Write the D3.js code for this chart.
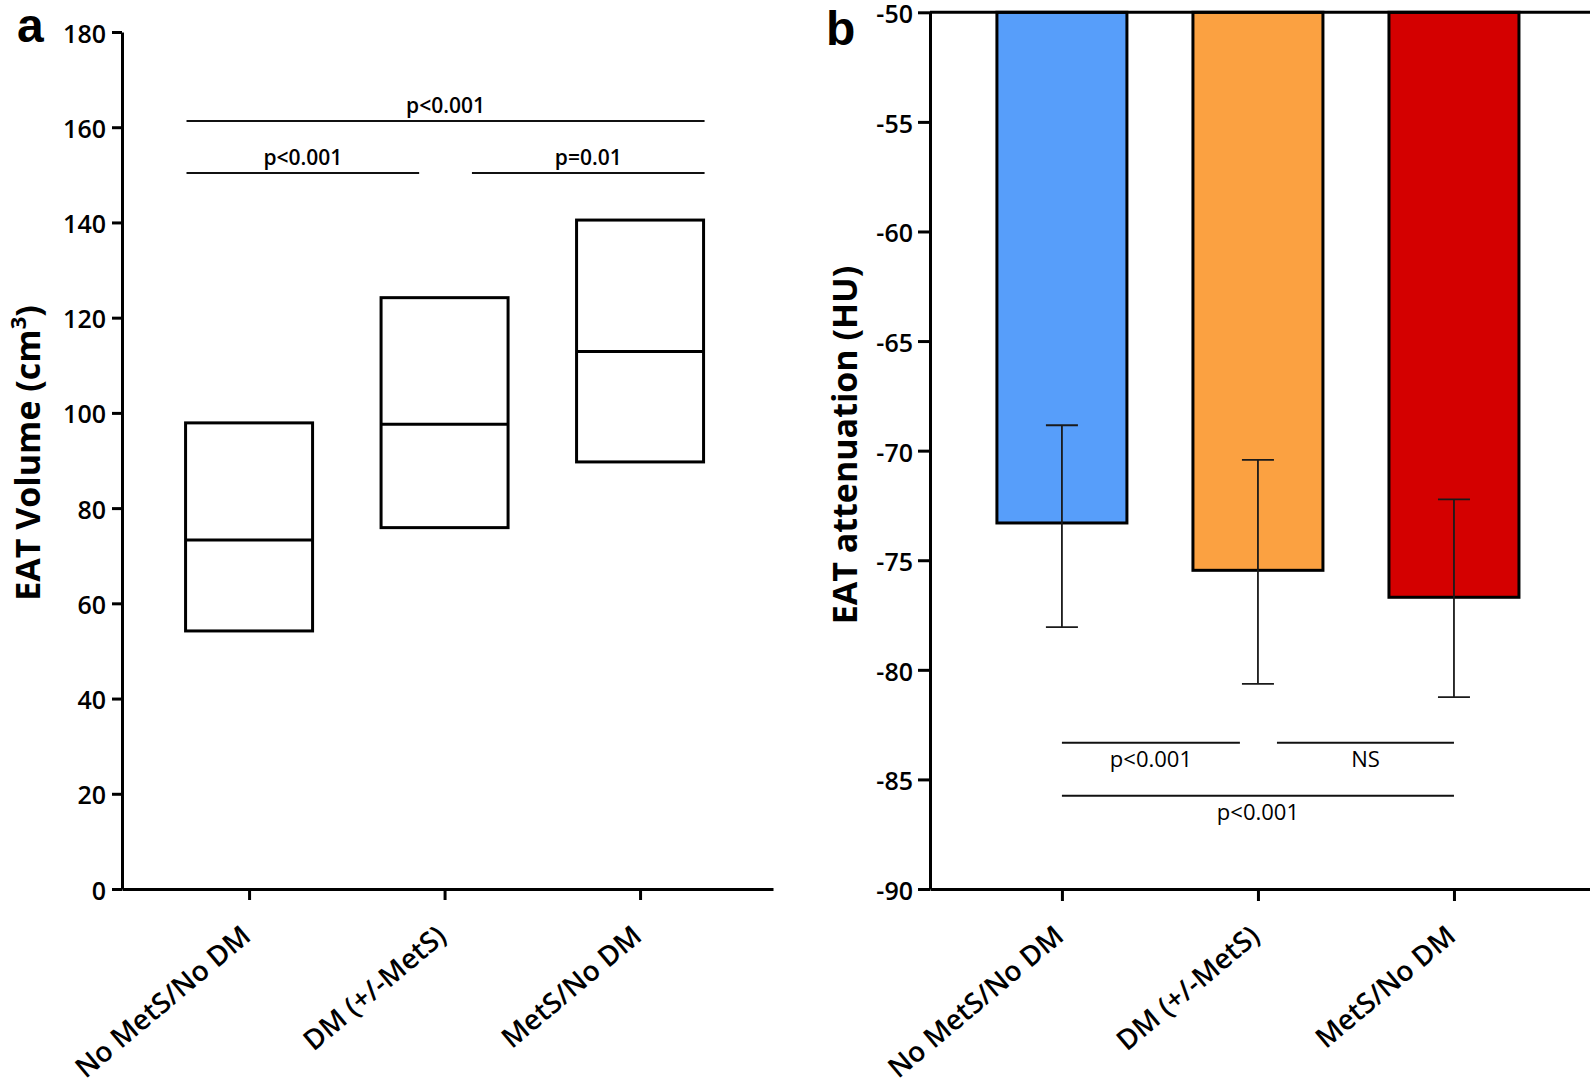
<!DOCTYPE html>
<html><head><meta charset="utf-8">
<script src="https://cdn.jsdelivr.net/npm/d3@7"></script>
<style>body{margin:0;background:#fff} svg{display:block}</style>
</head><body>
<svg id="chart" width="1590" height="1092"></svg>
<script>
// ---------- data ----------
const categories = ["No MetS/No DM", "DM (+/-MetS)", "MetS/No DM"];
// panel a: EAT volume boxes (lower edge, median, upper edge)
const volLower  = [54.2, 75.9, 89.7];
const volMedian = [73.3, 97.6, 112.9];
const volUpper  = [97.9, 124.2, 140.5];
const volTicks  = [0, 20, 40, 60, 80, 100, 120, 140, 160, 180];
// significance brackets panel a: start index, end index, value, label
const volSigStart = [-0.32, -0.32, 1.14];
const volSigEnd   = [2.33, 0.87, 2.33];
const volSigValue = [161.3, 150.4, 150.4];
const volSigLabel = ["p<0.001", "p<0.001", "p=0.01"];
// panel b: EAT attenuation mean with error bars
const attMean    = [-73.3, -75.46, -76.69];
const attErrHigh = [-68.84, -70.42, -72.22];
const attErrLow  = [-78.05, -80.64, -81.25];
const attTicks   = [-90, -85, -80, -75, -70, -65, -60, -55, -50];
const attColors  = ["#579efa", "#fba141", "#d40000"];
// significance brackets panel b
const attSigStart = [0, 1.097, 0];
const attSigEnd   = [0.908, 2, 2];
const attSigValue = [-83.33, -83.33, -85.75];
const attSigLabel = ["p<0.001", "NS", "p<0.001"];

// ---------- drawing ----------
const FONT = "'Open Sans', 'DejaVu Sans', sans-serif";
const svg = d3.select("#chart");

function styleAxis(g, size) {
  g.selectAll("path.domain").attr("stroke", "#000").attr("stroke-width", 3);
  g.selectAll(".tick line").attr("stroke", "#000").attr("stroke-width", 3);
  g.selectAll(".tick text").attr("fill", "#000")
    .style("font-family", FONT).style("font-size", size + "px").style("font-weight", 600);
}

// ===== Panel a =====
const xA = d3.scaleLinear().domain([-0.65, 2.68]).range([122, 773]);
const yA = d3.scaleLinear().domain([0, 180]).range([889, 32]);
const gA = svg.append("g");

const boxW = 127;
categories.forEach((c, i) => {
  gA.append("rect")
    .attr("x", xA(i) - boxW / 2).attr("width", boxW)
    .attr("y", yA(volUpper[i])).attr("height", yA(volLower[i]) - yA(volUpper[i]))
    .attr("fill", "none").attr("stroke", "#000").attr("stroke-width", 3);
  gA.append("line")
    .attr("x1", xA(i) - boxW / 2).attr("x2", xA(i) + boxW / 2)
    .attr("y1", yA(volMedian[i])).attr("y2", yA(volMedian[i]))
    .attr("stroke", "#000").attr("stroke-width", 3);
});

volSigLabel.forEach((lab, k) => {
  const yy = yA(volSigValue[k]);
  gA.append("line").attr("x1", xA(volSigStart[k])).attr("x2", xA(volSigEnd[k]))
    .attr("y1", yy).attr("y2", yy).attr("stroke", "#111").attr("stroke-width", 2);
  gA.append("text").attr("x", (xA(volSigStart[k]) + xA(volSigEnd[k])) / 2).attr("y", yy - 8)
    .attr("text-anchor", "middle").style("font-family", FONT).style("font-size", "21px")
    .style("font-weight", 600).text(lab);
});

const yAxA = gA.append("g").attr("transform", "translate(122,0)")
  .call(d3.axisLeft(yA).tickValues(volTicks).tickSize(10).tickSizeOuter(0).tickPadding(6));
styleAxis(yAxA, 25);
yAxA.selectAll(".tick text").attr("y", 2);
const xAxA = gA.append("g").attr("transform", "translate(0,889)")
  .call(d3.axisBottom(xA).tickValues([0, 1, 2]).tickFormat(i => categories[i])
    .tickSize(11).tickSizeOuter(0));
styleAxis(xAxA, 28);
xAxA.selectAll(".tick text").attr("x", 0).attr("y", 0).attr("dy", 0)
  .attr("transform", "translate(3,50) rotate(-40)").style("text-anchor", "end");

const labA = gA.append("text").attr("transform", "translate(40,453) rotate(-90)")
  .attr("text-anchor", "middle").style("font-family", FONT).style("font-size", "34px")
  .style("font-weight", 700);
labA.append("tspan").text("EAT Volume (cm");
labA.append("tspan").attr("dy", -14).style("font-size", "22px").text("3");
labA.append("tspan").attr("dy", 14).text(")");

svg.append("text").attr("x", 17).attr("y", 42)
  .style("font-family", "'Liberation Sans', Arial, sans-serif").style("font-size", "48px")
  .style("font-weight", 700).text("a");

// ===== Panel b =====
const xB = d3.scaleLinear().domain([-0.673, 2.694]).range([930, 1590]);
const yB = d3.scaleLinear().domain([-90, -50]).range([889, 12.3]);
const gB = svg.append("g");
const barW = 130;

categories.forEach((c, i) => {
  gB.append("rect")
    .attr("x", xB(i) - barW / 2).attr("width", barW)
    .attr("y", yB(-50)).attr("height", yB(attMean[i]) - yB(-50))
    .attr("fill", attColors[i]).attr("stroke", "#000").attr("stroke-width", 3);
});
categories.forEach((c, i) => {
  const cx = xB(i);
  gB.append("line").attr("x1", cx).attr("x2", cx)
    .attr("y1", yB(attErrHigh[i])).attr("y2", yB(attErrLow[i]))
    .attr("stroke", "#1a1a1a").attr("stroke-width", 1.8);
  [attErrHigh[i], attErrLow[i]].forEach(v => {
    gB.append("line").attr("x1", cx - 16).attr("x2", cx + 16)
      .attr("y1", yB(v)).attr("y2", yB(v))
      .attr("stroke", "#1a1a1a").attr("stroke-width", 1.8);
  });
});

gB.append("line").attr("x1", xB.range()[0]).attr("x2", xB.range()[1])
  .attr("y1", yB(-50)).attr("y2", yB(-50)).attr("stroke", "#000").attr("stroke-width", 3);

attSigLabel.forEach((lab, k) => {
  const yy = yB(attSigValue[k]);
  gB.append("line").attr("x1", xB(attSigStart[k])).attr("x2", xB(attSigEnd[k]))
    .attr("y1", yy).attr("y2", yy).attr("stroke", "#111").attr("stroke-width", 2);
  gB.append("text").attr("x", (xB(attSigStart[k]) + xB(attSigEnd[k])) / 2).attr("y", yy + 24)
    .attr("text-anchor", "middle").style("font-family", FONT).style("font-size", "22px")
    .style("font-weight", 500).text(lab);
});

const yAxB = gB.append("g").attr("transform", "translate(930,0)")
  .call(d3.axisLeft(yB).tickValues(attTicks).tickFormat(d => String(d))
    .tickSize(12).tickSizeOuter(0).tickPadding(5));
styleAxis(yAxB, 25);
yAxB.selectAll(".tick text").attr("y", 2.5);
const xAxB = gB.append("g").attr("transform", "translate(0,889)")
  .call(d3.axisBottom(xB).tickValues([0, 1, 2]).tickFormat(i => categories[i])
    .tickSize(12).tickSizeOuter(0));
styleAxis(xAxB, 28);
xAxB.selectAll(".tick text").attr("x", 0).attr("y", 0).attr("dy", 0)
  .attr("transform", "translate(3,50) rotate(-40)").style("text-anchor", "end");

gB.append("text").attr("transform", "translate(857,445) rotate(-90)")
  .attr("text-anchor", "middle").style("font-family", FONT).style("font-size", "34px")
  .style("font-weight", 700).text("EAT attenuation (HU)");

svg.append("text").attr("x", 826).attr("y", 45)
  .style("font-family", "'Liberation Sans', Arial, sans-serif").style("font-size", "48px")
  .style("font-weight", 700).text("b");
</script>
</body></html>
